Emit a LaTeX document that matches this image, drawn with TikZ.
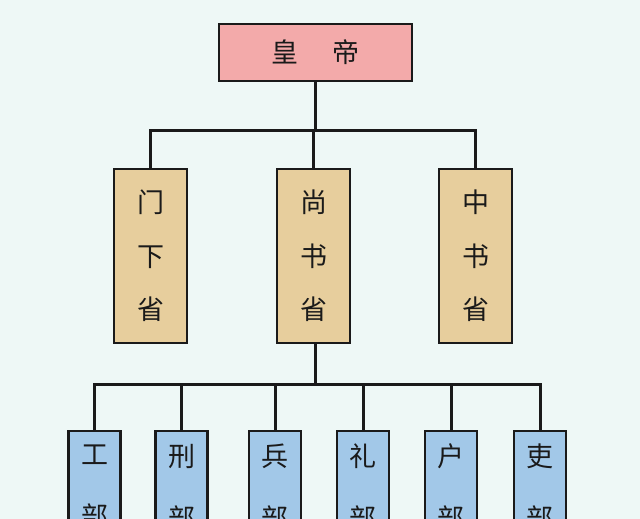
\documentclass[tikz,border=0pt]{standalone}
\usepackage{fontspec}
\newfontfamily\cjk{Noto Sans CJK SC}
\definecolor{bgc}{HTML}{EEF8F6}
\definecolor{pinkc}{HTML}{F3AAAA}
\definecolor{tanc}{HTML}{E7CE9D}
\definecolor{bluec}{HTML}{A2C8E8}
\definecolor{inkc}{HTML}{1A1A1A}
\tikzset{
  boxbase/.style={draw=inkc, line width=2.8pt, rectangle, inner sep=0pt, align=center, text=inkc},
  topbox/.style={boxbase, fill=pinkc, minimum width=193pt, minimum height=57pt, font=\cjk\fontsize{27}{30}\selectfont},
  shengbox/.style={boxbase, fill=tanc, minimum width=73pt, minimum height=174pt, font=\cjk\fontsize{27}{53.5}\selectfont},
  bubox/.style={boxbase, fill=bluec, minimum width=52pt, minimum height=112pt, font=\cjk\fontsize{27}{62}\selectfont},
  conn/.style={draw=inkc, line width=3pt}
}
\begin{document}
\begin{tikzpicture}[x=1pt,y=-1pt]
\useasboundingbox (0,0) rectangle (640,519);
\fill[bgc] (0,0) rectangle (640,519);
\clip (0,0) rectangle (640,519);

\coordinate (bar1) at (315,130);
\coordinate (bar2) at (315,384);

\node[topbox] (huangdi) at (315.5,52.5) {皇\hspace{1.25em}帝};

\node[shengbox] (menxia) at (150.5,256) {门\\下\\省};
\node[shengbox] (shangshu) at (313.5,256) {尚\\书\\省};
\node[shengbox] (zhongshu) at (475.5,256) {中\\书\\省};

\node[bubox] (gong) at (94.5,487) {工\\部};
\node[bubox] (xing) at (181.5,487) {刑\\部};
\node[bubox] (bing) at (275,487) {兵\\部};
\node[bubox] (libu) at (363,487) {礼\\部};
\node[bubox] (hu) at (451,487) {户\\部};
\node[bubox] (lii) at (540,487) {吏\\部};

\draw[conn] (huangdi.south) -- (huangdi.south |- bar1);
\draw[conn] (menxia.north) |- (zhongshu.north |- bar1) -- (zhongshu.north);
\draw[conn] (shangshu.north) -- (shangshu.north |- bar1);

\draw[conn] (bar2 |- shangshu.south) -- (bar2);
\draw[conn] (gong.north) |- (lii.north |- bar2) -- (lii.north);
\draw[conn] (xing.north) -- (xing.north |- bar2);
\draw[conn] (bing.north) -- (bing.north |- bar2);
\draw[conn] (libu.north) -- (libu.north |- bar2);
\draw[conn] (hu.north) -- (hu.north |- bar2);
\end{tikzpicture}
\end{document}
